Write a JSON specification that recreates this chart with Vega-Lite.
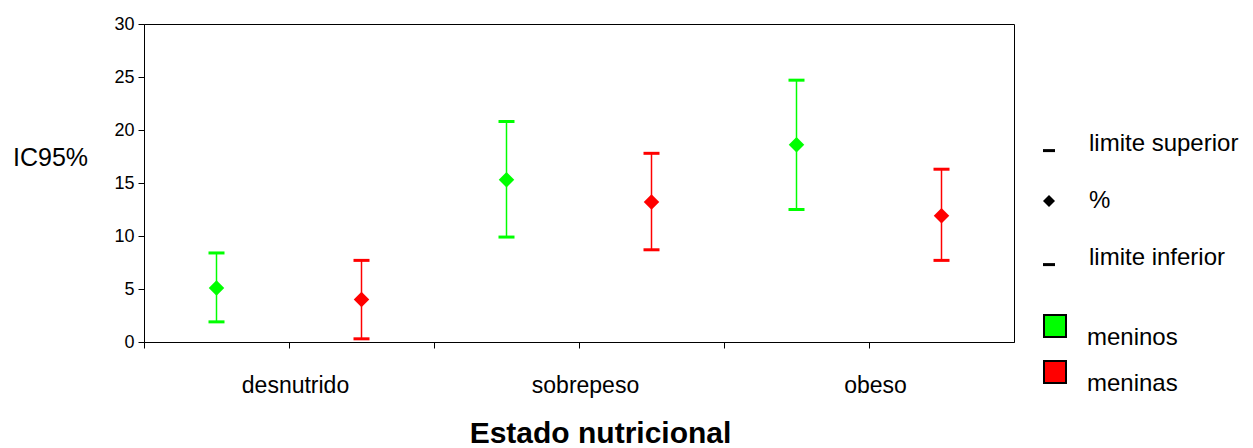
{
  "$schema": "https://vega.github.io/schema/vega-lite/v6.json",
  "width": 870,
  "height": 318,
  "autosize": {"type": "none"},
  "padding": {"left": 144, "top": 24, "right": 239, "bottom": 106},
  "background": "white",
  "config": {
    "font": "Liberation Sans",
    "view": {"stroke": "black", "strokeWidth": 1},
    "axis": {"domainColor": "black", "tickColor": "black", "labelColor": "black", "titleColor": "black", "grid": false, "labelFont": "Liberation Sans", "titleFont": "Liberation Sans"},
    "legend": {"padding": 0, "labelColor": "black"}
  },
  "data": {
    "values": [
      {"grupo": "desnutrido meninos", "sexo": "meninos", "inf": 1.9, "pct": 5.1, "sup": 8.4},
      {"grupo": "desnutrido meninas", "sexo": "meninas", "inf": 0.3, "pct": 4.0, "sup": 7.7},
      {"grupo": "sobrepeso meninos", "sexo": "meninos", "inf": 9.9, "pct": 15.3, "sup": 20.8},
      {"grupo": "sobrepeso meninas", "sexo": "meninas", "inf": 8.7, "pct": 13.2, "sup": 17.8},
      {"grupo": "obeso meninos", "sexo": "meninos", "inf": 12.5, "pct": 18.6, "sup": 24.7},
      {"grupo": "obeso meninas", "sexo": "meninas", "inf": 7.7, "pct": 11.9, "sup": 16.3}
    ]
  },
  "encoding": {
    "x": {
      "field": "grupo",
      "type": "nominal",
      "scale": {
        "domain": ["desnutrido meninos", "desnutrido meninas", "sobrepeso meninos", "sobrepeso meninas", "obeso meninos", "obeso meninas"],
        "paddingInner": 0,
        "paddingOuter": 0
      },
      "axis": {
        "bandPosition": 0,
        "labelAngle": 0,
        "labelExpr": "indexof(datum.label, 'meninas') >= 0 ? replace(datum.label, ' meninas', '') : ''",
        "labelFontSize": 23,
        "labelPadding": 26,
        "labelOffset": -66,
        "labelAlign": "center",
        "tickSize": 6,
        "title": "Estado nutricional",
        "titleFontSize": 30,
        "titleFontWeight": "bold",
        "titleX": 456,
        "titleY": 100,
        "titleBaseline": "alphabetic",
        "titleAnchor": "start",
        "titleAlign": "center",
        "labelOverlap": false
      }
    }
  },
  "layer": [
    {
      "mark": {"type": "rule", "strokeWidth": 1.5},
      "encoding": {
        "y": {"field": "inf", "type": "quantitative"},
        "y2": {"field": "sup"},
        "stroke": {"field": "sexo", "type": "nominal", "scale": {"domain": ["meninas", "meninos"], "range": ["#ff0000", "#00ff00"]}, "legend": null}
      }
    },
    {
      "mark": {"type": "tick", "orient": "horizontal", "size": 16, "thickness": 3, "opacity": 1},
      "encoding": {
        "y": {"field": "sup", "type": "quantitative"},
        "fill": {"field": "sexo", "type": "nominal", "scale": {"domain": ["meninas", "meninos"], "range": ["#ff0000", "#00ff00"]}, "legend": null}
      }
    },
    {
      "mark": {"type": "tick", "orient": "horizontal", "size": 16, "thickness": 3, "opacity": 1},
      "encoding": {
        "y": {"field": "inf", "type": "quantitative"},
        "fill": {"field": "sexo", "type": "nominal", "scale": {"domain": ["meninas", "meninos"], "range": ["#ff0000", "#00ff00"]}, "legend": null}
      }
    },
    {
      "mark": {"type": "point", "filled": true, "size": 240, "opacity": 1},
      "encoding": {
        "y": {
          "field": "pct",
          "type": "quantitative",
          "scale": {"domain": [0, 30], "nice": false},
          "axis": {
            "values": [0, 5, 10, 15, 20, 25, 30],
            "labelFontSize": 18,
            "tickSize": 6,
            "labelPadding": 4,
            "title": "IC95%",
            "titleAngle": 0,
            "titleFontSize": 25,
            "titleFontWeight": "normal",
            "titleX": -94,
            "titleY": 141,
            "titleAlign": "center",
            "titleBaseline": "alphabetic"
          }
        },
        "color": {
          "field": "sexo",
          "type": "nominal",
          "scale": {"domain": ["meninos", "meninas"], "range": ["#00ff00", "#ff0000"]},
          "legend": {
            "title": null,
            "orient": "none",
            "legendX": 899,
            "legendY": 290,
            "symbolType": "square",
            "symbolSize": 484,
            "symbolStrokeColor": "black",
            "symbolStrokeWidth": 2,
            "labelFontSize": 24,
            "labelFont": "Liberation Sans",
            "labelOffset": 20,
            "labelBaseline": "top",
            "rowPadding": 7,
            "encode": {
              "symbols": {
                "update": {"stroke": {"value": "black"}, "strokeWidth": {"value": 2}, "shape": {"value": "square"}, "opacity": {"value": 1}, "fillOpacity": {"value": 1}, "strokeOpacity": {"value": 1}}
              }
            }
          }
        },
        "shape": {
          "datum": "%",
          "scale": {
            "domain": ["limite superior", "%", "limite inferior"],
            "range": ["M-1,0.85H1V1.35H-1Z", "diamond", "M-1,0.85H1V1.35H-1Z"]
          },
          "legend": {
            "title": null,
            "orient": "none",
            "legendX": 893,
            "legendY": 108,
            "symbolSize": 144,
            "labelFontSize": 24,
            "labelOffset": 28,
            "rowPadding": 33,
            "encode": {
              "symbols": {"update": {"fill": {"value": "black"}, "stroke": {"value": "transparent"}, "opacity": {"value": 1}, "fillOpacity": {"value": 1}}}
            }
          }
        }
      }
    }
  ]
}
